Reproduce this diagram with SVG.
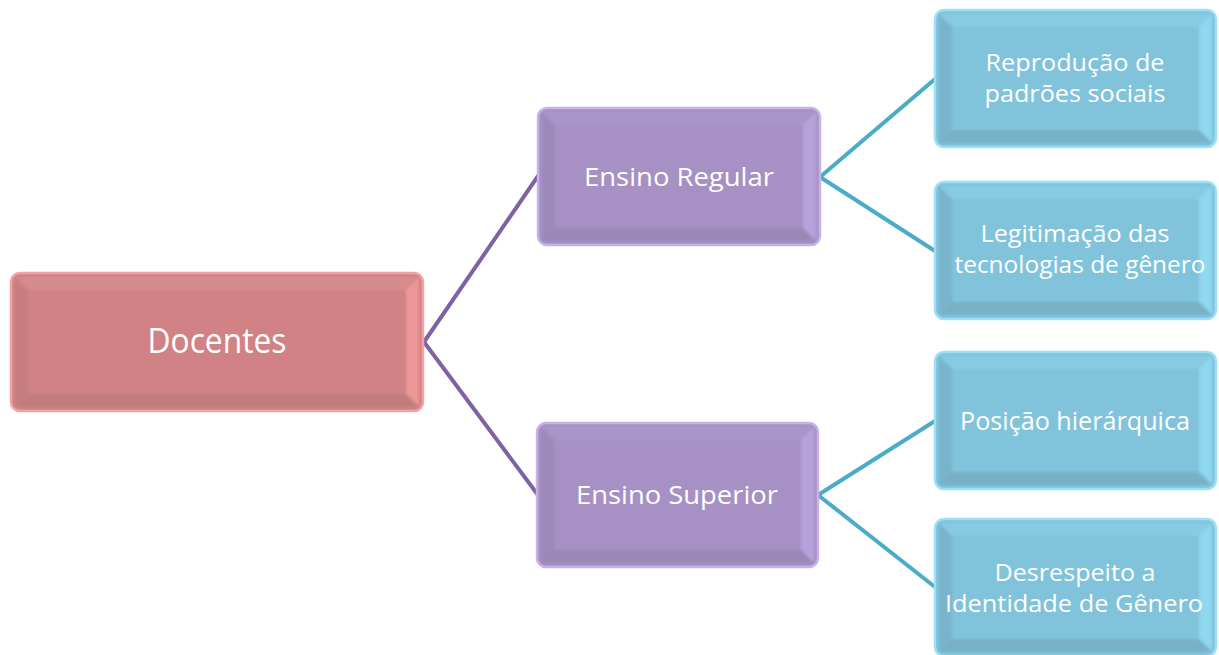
<svg xmlns="http://www.w3.org/2000/svg" width="1219" height="655" viewBox="0 0 1219 655">
  <defs>
    <filter id="soft" x="-5%" y="-5%" width="110%" height="110%">
      <feGaussianBlur stdDeviation="1.6"/>
    </filter>
  </defs>
  <style>
    .lbl { font-family: "Open Sans", "Noto Sans", "Liberation Sans", sans-serif; fill: #ffffff; text-anchor: middle; }
    .big { font-size: 35px; }
    .mid { font-size: 26px; }
    .sm { font-size: 25px; }
    .two { font-size: 23px; }
    .rim { fill: none; stroke-width: 2.5; }
    .bevel { filter: url(#soft); }
    .pink .base, .pink .face { fill: #d18285; }
    .pink .rim { stroke: #f3a2a3; }
    .pink .top { fill: #d68b8d; }
    .pink .rgt { fill: #ec9798; }
    .pink .bot { fill: #c27b7d; }
    .pink .lft { fill: #c67e80; }
    .purple .base, .purple .face { fill: #a690c4; }
    .purple .rim { stroke: #c6b2e8; }
    .purple .top { fill: #aa95c9; }
    .purple .rgt { fill: #b8a2dc; }
    .purple .bot { fill: #9a88b6; }
    .purple .lft { fill: #9c89ba; }
    .blue .base, .blue .face { fill: #80c3db; }
    .blue .rim { stroke: #9ae0f8; }
    .blue .top { fill: #87cbe2; }
    .blue .rgt { fill: #8ed8f0; }
    .blue .bot { fill: #77b1c5; }
    .blue .lft { fill: #78b4ca; }
    .link-p { stroke: #7f62a4; stroke-width: 4; fill: none; stroke-linecap: round; }
    .link-b { stroke: #4bacc6; stroke-width: 4; fill: none; stroke-linecap: round; }
  </style>

  <!-- connectors -->
  <g id="connectors">
    <path class="link-p" d="M424 342 L538 176"/>
    <path class="link-p" d="M424 342 L538 495"/>
    <path class="link-b" d="M820 177 L935 79"/>
    <path class="link-b" d="M820 177 L935 251"/>
    <path class="link-b" d="M818 495 L935 421"/>
    <path class="link-b" d="M818 495 L935 587"/>
  </g>

  <!-- root node -->
  <g id="docentes" class="pink" transform="translate(11 273)">
    <rect class="base" x="0" y="0" width="412" height="138" rx="9"/>
    <g class="bevel">
      <polygon class="top" points="4,4 408,4 395,17 17,17"/>
      <polygon class="rgt" points="408,4 408,134 395,121 395,17"/>
      <polygon class="bot" points="4,134 408,134 395,121 17,121"/>
      <polygon class="lft" points="4,4 17,17 17,121 4,134"/>
    </g>
    <rect class="face" x="18" y="18" width="376" height="102"/>
    <rect class="rim" x="0" y="0" width="412" height="138" rx="9"/>
    <text class="lbl big" x="206" y="80" textLength="139" lengthAdjust="spacingAndGlyphs">Docentes</text>
  </g>

  <!-- second level -->
  <g id="ensino-regular" class="purple" transform="translate(538 108)">
    <rect class="base" x="0" y="0" width="282" height="137" rx="9"/>
    <g class="bevel">
      <polygon class="top" points="4,4 278,4 265,17 17,17"/>
      <polygon class="rgt" points="278,4 278,133 265,120 265,17"/>
      <polygon class="bot" points="4,133 278,133 265,120 17,120"/>
      <polygon class="lft" points="4,4 17,17 17,120 4,133"/>
    </g>
    <rect class="face" x="18" y="18" width="246" height="101"/>
    <rect class="rim" x="0" y="0" width="282" height="137" rx="9"/>
    <text class="lbl mid" x="141" y="78" textLength="190" lengthAdjust="spacingAndGlyphs">Ensino Regular</text>
  </g>

  <g id="ensino-superior" class="purple" transform="translate(537 423)">
    <rect class="base" x="0" y="0" width="281" height="144" rx="9"/>
    <g class="bevel">
      <polygon class="top" points="4,4 277,4 264,17 17,17"/>
      <polygon class="rgt" points="277,4 277,140 264,127 264,17"/>
      <polygon class="bot" points="4,140 277,140 264,127 17,127"/>
      <polygon class="lft" points="4,4 17,17 17,127 4,140"/>
    </g>
    <rect class="face" x="18" y="18" width="245" height="108"/>
    <rect class="rim" x="0" y="0" width="281" height="144" rx="9"/>
    <text class="lbl mid" x="140" y="81" textLength="202" lengthAdjust="spacingAndGlyphs">Ensino Superior</text>
  </g>

  <!-- third level -->
  <g id="reproducao" class="blue" transform="translate(935 10)">
    <rect class="base" x="0" y="0" width="281" height="137" rx="9"/>
    <g class="bevel">
      <polygon class="top" points="4,4 277,4 264,17 17,17"/>
      <polygon class="rgt" points="277,4 277,133 264,120 264,17"/>
      <polygon class="bot" points="4,133 277,133 264,120 17,120"/>
      <polygon class="lft" points="4,4 17,17 17,120 4,133"/>
    </g>
    <rect class="face" x="18" y="18" width="245" height="101"/>
    <rect class="rim" x="0" y="0" width="281" height="137" rx="9"/>
    <text class="lbl two" x="140" y="61" textLength="179" lengthAdjust="spacingAndGlyphs">Reprodução de</text>
    <text class="lbl two" x="140" y="92" textLength="181" lengthAdjust="spacingAndGlyphs">padrões sociais</text>
  </g>

  <g id="legitimacao" class="blue" transform="translate(935 182)">
    <rect class="base" x="0" y="0" width="281" height="137" rx="9"/>
    <g class="bevel">
      <polygon class="top" points="4,4 277,4 264,17 17,17"/>
      <polygon class="rgt" points="277,4 277,133 264,120 264,17"/>
      <polygon class="bot" points="4,133 277,133 264,120 17,120"/>
      <polygon class="lft" points="4,4 17,17 17,120 4,133"/>
    </g>
    <rect class="face" x="18" y="18" width="245" height="101"/>
    <rect class="rim" x="0" y="0" width="281" height="137" rx="9"/>
    <text class="lbl two" x="140" y="60" textLength="189" lengthAdjust="spacingAndGlyphs">Legitimação das</text>
    <text class="lbl two" x="145" y="91" textLength="251" lengthAdjust="spacingAndGlyphs">tecnologias de gênero</text>
  </g>

  <g id="posicao" class="blue" transform="translate(935 352)">
    <rect class="base" x="0" y="0" width="281" height="137" rx="9"/>
    <g class="bevel">
      <polygon class="top" points="4,4 277,4 264,17 17,17"/>
      <polygon class="rgt" points="277,4 277,133 264,120 264,17"/>
      <polygon class="bot" points="4,133 277,133 264,120 17,120"/>
      <polygon class="lft" points="4,4 17,17 17,120 4,133"/>
    </g>
    <rect class="face" x="18" y="18" width="245" height="101"/>
    <rect class="rim" x="0" y="0" width="281" height="137" rx="9"/>
    <text class="lbl sm" x="140" y="78" textLength="230" lengthAdjust="spacingAndGlyphs">Posição hierárquica</text>
  </g>

  <g id="desrespeito" class="blue" transform="translate(935 519)">
    <rect class="base" x="0" y="0" width="281" height="137" rx="9"/>
    <g class="bevel">
      <polygon class="top" points="4,4 277,4 264,17 17,17"/>
      <polygon class="rgt" points="277,4 277,133 264,120 264,17"/>
      <polygon class="bot" points="4,133 277,133 264,120 17,120"/>
      <polygon class="lft" points="4,4 17,17 17,120 4,133"/>
    </g>
    <rect class="face" x="18" y="18" width="245" height="101"/>
    <rect class="rim" x="0" y="0" width="281" height="137" rx="9"/>
    <text class="lbl two" x="140" y="62" textLength="161" lengthAdjust="spacingAndGlyphs">Desrespeito a</text>
    <text class="lbl two" x="139" y="93" textLength="258" lengthAdjust="spacingAndGlyphs">Identidade de Gênero</text>
  </g>
</svg>
